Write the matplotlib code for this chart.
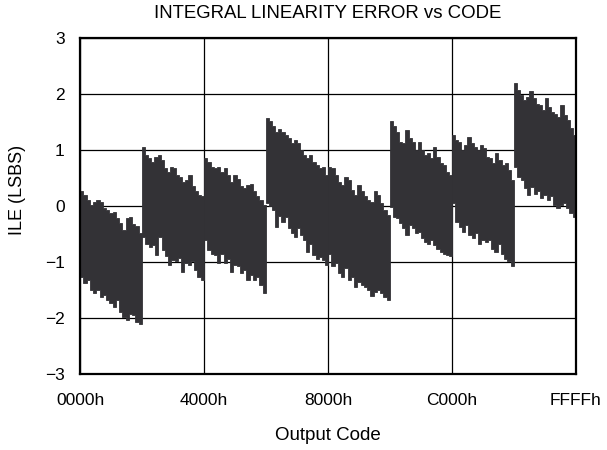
import numpy as np
import matplotlib.pyplot as plt

plt.rcParams['font.family'] = ['Liberation Sans', 'DejaVu Sans']

# Code ranges of the eight major-carry segments
seg_start = [0x0000, 0x2000, 0x4000, 0x6000, 0x8000, 0xA000, 0xC000, 0xE000]
seg_width = 0x2000

# Upper edge of the ILE band in each segment (LSBs), left to right
upper = [
    [0.26, 0.20, 0.11, 0.02, 0.08, 0.10, 0.08, -0.04, -0.07, -0.13,
     -0.10, -0.22, -0.31, -0.43, -0.22, -0.20, -0.33, -0.36, -0.49],
    [1.06, 0.91, 0.85, 0.79, 0.88, 0.91, 0.82, 0.67, 0.61, 0.70,
     0.67, 0.55, 0.52, 0.43, 0.46, 0.55, 0.35, 0.26, 0.20, 0.17],
    [0.85, 0.79, 0.70, 0.67, 0.70, 0.61, 0.67, 0.55, 0.43, 0.55,
     0.49, 0.35, 0.32, 0.38, 0.40, 0.26, 0.17, 0.11, 0.02],
    [1.57, 1.51, 1.42, 1.33, 1.38, 1.33, 1.27, 1.21, 1.12, 1.18,
     1.12, 1.00, 0.91, 0.85, 0.91, 0.79, 0.73, 0.67, 0.70, 0.55],
    [0.70, 0.67, 0.55, 0.43, 0.38, 0.52, 0.46, 0.29, 0.20, 0.38,
     0.26, 0.17, 0.11, 0.08, 0.26, 0.20, 0.05, -0.07, -0.16],
    [1.51, 1.42, 1.33, 1.15, 1.12, 1.36, 1.21, 1.15, 1.00, 1.15,
     1.00, 0.91, 0.94, 0.85, 1.06, 0.88, 0.76, 0.73, 0.61, 0.55],
    [1.27, 1.18, 1.15, 1.00, 1.09, 1.24, 1.12, 1.06, 1.00, 1.09,
     1.03, 0.88, 0.85, 0.76, 0.94, 0.82, 0.73, 0.76, 0.64, 0.46],
    [2.20, 2.07, 1.98, 1.89, 1.95, 2.06, 1.92, 1.83, 1.80, 1.71,
     1.92, 1.77, 1.68, 1.65, 1.59, 1.80, 1.62, 1.54, 1.39, 1.27],
]

# Lower edge of the ILE band in each segment (LSBs), left to right
lower = [
    [-1.26, -1.38, -1.32, -1.50, -1.56, -1.50, -1.62, -1.59, -1.68, -1.74,
     -1.80, -1.68, -1.89, -1.98, -2.04, -1.92, -1.95, -2.07, -2.10],
    [-0.55, -0.67, -0.73, -0.70, -0.88, -0.55, -0.79, -0.90, -1.05, -0.96,
     -0.99, -0.93, -1.17, -1.02, -1.05, -0.99, -1.14, -1.26, -1.32],
    [-0.61, -0.79, -0.85, -0.88, -1.02, -0.85, -1.02, -0.94, -1.17, -1.05,
     -1.08, -1.20, -1.14, -1.32, -1.23, -1.32, -1.26, -1.41, -1.56],
    [0.05, 0.00, -0.07, -0.37, -0.17, -0.28, -0.20, -0.40, -0.49, -0.55,
     -0.40, -0.52, -0.61, -0.82, -0.67, -0.88, -0.94, -0.91, -0.96, -1.05],
    [-0.85, -1.08, -1.02, -1.20, -1.26, -1.11, -1.32, -1.26, -1.44, -1.35,
     -1.41, -1.44, -1.50, -1.60, -1.54, -1.50, -1.56, -1.62, -1.68],
    [-0.01, -0.19, -0.22, -0.31, -0.40, -0.52, -0.34, -0.40, -0.49, -0.46,
     -0.58, -0.64, -0.67, -0.61, -0.70, -0.76, -0.82, -0.85, -0.88, -0.90],
    [0.05, -0.28, -0.37, -0.46, -0.34, -0.52, -0.58, -0.49, -0.67, -0.61,
     -0.64, -0.61, -0.76, -0.82, -0.67, -0.85, -0.94, -0.99, -1.08],
    [0.70, 0.52, 0.46, 0.32, 0.20, 0.34, 0.22, 0.27, 0.14, 0.20,
     0.11, 0.17, 0.02, -0.04, 0.02, 0.05, -0.04, -0.13, -0.19],
]

tick_codes = [0x0000, 0x4000, 0x8000, 0xC000, 0xFFFF]
tick_labels = ['0000h', '4000h', '8000h', 'C000h', 'FFFFh']
y_ticks = [-3, -2, -1, 0, 1, 2, 3]

band_color = '#333236'


def step_edge(start, values):
    """Staircase vertices for one band edge across a segment."""
    edges = np.linspace(start, start + seg_width, len(values) + 1)
    xs = np.repeat(edges, 2)[1:-1]
    ys = np.repeat(values, 2)
    return xs, ys


fig = plt.figure(figsize=(6.07, 4.5), dpi=100)
ax = fig.add_axes([0.1318, 0.1689, 0.8171, 0.7467])

for start, up, lo in zip(seg_start, upper, lower):
    xu, yu = step_edge(start, up)
    xl, yl = step_edge(start, lo)
    poly_x = np.concatenate([xu, xl[::-1]])
    poly_y = np.concatenate([yu, yl[::-1]])
    ax.fill(poly_x, poly_y, color=band_color, lw=0.6, zorder=3)

ax.set_xlim(0, 0xFFFF)
ax.set_ylim(-3, 3)
ax.set_xticks(tick_codes)
ax.set_xticklabels(tick_labels)
ax.set_yticks(y_ticks)
ax.set_yticklabels([f'{v}'.replace('-', '\u2212') for v in y_ticks])
ax.tick_params(length=0, labelsize=12.5)
ax.tick_params(axis='x', pad=14)
ax.tick_params(axis='y', pad=11)
ax.grid(True, color='black', lw=0.9, zorder=1)
ax.set_axisbelow(True)
for sp in ax.spines.values():
    sp.set_linewidth(1.6)
    sp.set_zorder(5)

fig.text(328 / 607, 1 - 14 / 450, 'INTEGRAL LINEARITY ERROR vs CODE',
         ha='center', va='center', fontsize=13.4)
fig.text(18 / 607, 1 - 190 / 450, 'ILE (LSBS)', rotation=90,
         ha='center', va='center', fontsize=13)
fig.text(328 / 607, 1 - 435 / 450, 'Output Code',
         ha='center', va='center', fontsize=13.5)

fig.savefig('out.png', dpi=100)
